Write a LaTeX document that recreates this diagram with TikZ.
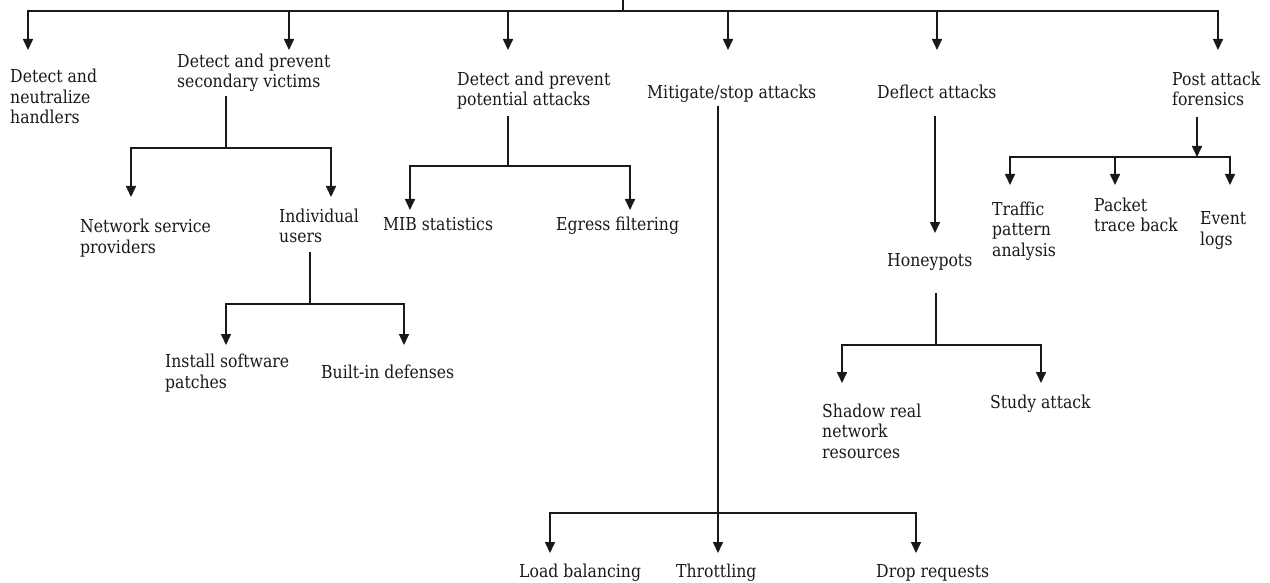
\documentclass[tikz,border=0pt]{standalone}
\usepackage{fontspec}
\setmainfont{DejaVu Serif}[FakeStretch=0.88]
\usetikzlibrary{arrows.meta}

\begin{document}
\begin{tikzpicture}[
    x=1pt, y=-1pt, % pixel grid of the reference, y runs downwards
    >={Triangle[width=10pt,length=11pt]},
    link/.style={line width=1.6pt, draw=black!90},
    arrow/.style={link, ->},
    txt/.style={
        inner sep=0pt,
        anchor=base west, % base = baseline of the last line
        align=left,
        text=black!90,
        font=\fontsize{17.8pt}{20.5pt}\selectfont
    }
]
\useasboundingbox (0,0) rectangle (1270,583);

% --- NODES ---
\node[txt] (handlers)  at (10,124)  {Detect and\\neutralize\\handlers};
\node[txt] (victims)   at (177,88)  {Detect and prevent\\secondary victims};
\node[txt] (potential) at (457,106) {Detect and prevent\\potential attacks};
\node[txt] (mitigate)  at (647,99)  {Mitigate/stop attacks};
\node[txt] (deflect)   at (877,99)  {Deflect attacks};
\node[txt] (forensics) at (1172,106) {Post attack\\forensics};

% secondary victims branch
\node[txt] (providers) at (80,253)  {Network service\\providers};
\node[txt] (users)     at (279,243) {Individual\\users};
\node[txt] (patches)   at (165,388) {Install software\\patches};
\node[txt] (builtin)   at (321,378) {Built-in defenses};

% potential attacks branch
\node[txt] (mib)       at (383,230) {MIB statistics};
\node[txt] (egress)    at (556,230) {Egress filtering};

% mitigation branch
\node[txt] (loadbal)   at (519,577) {Load balancing};
\node[txt] (throttle)  at (676,577) {Throttling};
\node[txt] (dropreq)   at (876,577) {Drop requests};

% deflection branch
\node[txt] (honeypots) at (887,266) {Honeypots};
\node[txt] (shadow)    at (822,458) {Shadow real\\network\\resources};
\node[txt] (study)     at (990,408) {Study attack};

% forensics branch
\node[txt] (traffic)   at (992,256)  {Traffic\\pattern\\analysis};
\node[txt] (traceback) at (1094,232) {Packet\\trace back};
\node[txt] (eventlogs) at (1200,245) {Event\\logs};

% --- CONNECTIONS ---
\coordinate (top) at (623,0);
\coordinate (hub) at (623,11);
\draw[link] (top) -- (hub);
\draw[arrow] (hub) -| ([shift={(18,-74)}]handlers.base west);
\draw[arrow] (hub) -| ([shift={(112,-38)}]victims.base west);
\draw[arrow] (hub) -| ([shift={(51,-56)}]potential.base west);
\draw[arrow] (hub) -| ([shift={(81,-49)}]mitigate.base west);
\draw[arrow] (hub) -| ([shift={(60,-49)}]deflect.base west);
\draw[arrow] (hub) -| ([shift={(46,-56)}]forensics.base west);

% secondary victims
\coordinate (vbus) at (226,148);
\draw[link] ([shift={(49,8)}]victims.base west) -- (vbus);
\draw[arrow] (vbus) -| ([shift={(51,-56)}]providers.base west);
\draw[arrow] (vbus) -| ([shift={(52,-46)}]users.base west);

\coordinate (ubus) at (310,304);
\draw[link] ([shift={(31,9)}]users.base west) -- (ubus);
\draw[arrow] (ubus) -| ([shift={(61,-43)}]patches.base west);
\draw[arrow] (ubus) -| ([shift={(83,-33)}]builtin.base west);

% potential attacks
\coordinate (pbus) at (508,166);
\draw[link] ([shift={(51,10)}]potential.base west) -- (pbus);
\draw[arrow] (pbus) -| ([shift={(27,-20)}]mib.base west);
\draw[arrow] (pbus) -| ([shift={(74,-20)}]egress.base west);

% mitigate / stop
\coordinate (mbus) at (718,513);
\draw[link] ([shift={(71,7)}]mitigate.base west) -- (mbus);
\draw[arrow] (mbus) -| ([shift={(31,-24)}]loadbal.base west);
\draw[arrow] (mbus) -| ([shift={(42,-24)}]throttle.base west);
\draw[arrow] (mbus) -| ([shift={(40,-24)}]dropreq.base west);

% deflect
\draw[arrow] ([shift={(58,17)}]deflect.base west) -- ([shift={(48,-33)}]honeypots.base west);
\coordinate (hbus) at (936,345);
\draw[link] ([shift={(49,27)}]honeypots.base west) -- (hbus);
\draw[arrow] (hbus) -| ([shift={(20,-75)}]shadow.base west);
\draw[arrow] (hbus) -| ([shift={(51,-25)}]study.base west);

% forensics
\coordinate (fbus) at (1197,157);
\draw[arrow] ([shift={(25,11)}]forensics.base west) -- (fbus);
\draw[arrow] (fbus) -| ([shift={(18,-71)}]traffic.base west);
\draw[arrow] (fbus) -| ([shift={(21,-47)}]traceback.base west);
\draw[arrow] (fbus) -| ([shift={(30,-60)}]eventlogs.base west);

\end{tikzpicture}
\end{document}
